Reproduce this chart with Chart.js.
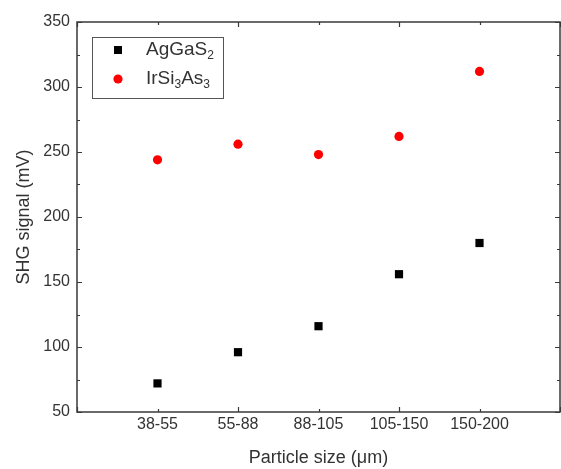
<!DOCTYPE html>
<html>
<head>
<meta charset="utf-8">
<script src="https://cdn.jsdelivr.net/npm/chart.js@4/dist/chart.umd.min.js"></script>
<style>
  html, body { margin: 0; padding: 0; background: #fff; overflow: hidden; }
  canvas { display: block; }
</style>
</head>
<body>
<canvas id="shgChart" width="561" height="469"></canvas>
<script>
// Data
const sizeLabels = ['38-55', '55-88', '88-105', '105-150', '150-200'];
const agGaS2 = [72, 96, 116, 156, 180];
const irSi3As3 = [244, 256, 248, 262, 312];
const yTicks = [50, 100, 150, 200, 250, 300, 350];

const axisColor = '#3a3a3a';
const textColor = '#333';
const FONT = "'Liberation Sans', Arial, sans-serif";

// draw the box frame + inward ticks on all four sides (Origin style)
const framePlugin = {
    id: 'frame',
    afterDatasetsDraw(chart) {
        const { ctx, chartArea: a, scales } = chart;
        const x = scales.x, y = scales.y;
        ctx.save();
        ctx.strokeStyle = axisColor;
        ctx.lineWidth = 1.5;
        ctx.strokeRect(a.left, a.top, a.right - a.left, a.bottom - a.top);
        ctx.lineWidth = 1.2;
        ctx.beginPath();
        // y ticks: major every 50, minor every 25
        for (let v = y.min; v <= y.max; v += 25) {
            const py = Math.round(y.getPixelForValue(v)) + 0.5;
            const len = (v % 50 === 0) ? 5 : 3;
            ctx.moveTo(a.left, py); ctx.lineTo(a.left + len, py);
            ctx.moveTo(a.right, py); ctx.lineTo(a.right - len, py);
        }
        // x ticks: major at even, minor at odd
        for (let v = x.min; v <= x.max; v += 1) {
            const px = Math.round(x.getPixelForValue(v)) + 0.5;
            const len = (v % 2 === 0) ? 5 : 3;
            ctx.moveTo(px, a.bottom); ctx.lineTo(px, a.bottom - len);
            ctx.moveTo(px, a.top); ctx.lineTo(px, a.top + len);
        }
        ctx.stroke();
        ctx.restore();
    }
};

// legend with subscripts ("_n" marks a subscript)
function drawRich(ctx, str, x, y, size) {
    const parts = str.split(/(_\d)/).filter(Boolean);
    let cx = x;
    parts.forEach(p => {
        if (p[0] === '_') {
            ctx.font = Math.round(size * 0.65) + 'px ' + FONT;
            ctx.fillText(p.slice(1), cx, y + size * 0.28);
            cx += ctx.measureText(p.slice(1)).width;
        } else {
            ctx.font = size + 'px ' + FONT;
            ctx.fillText(p, cx, y);
            cx += ctx.measureText(p).width;
        }
    });
}

const legendPlugin = {
    id: 'boxLegend',
    afterDraw(chart) {
        const ctx = chart.ctx;
        const names = ['AgGaS_2', 'IrSi_3As_3'];
        ctx.save();
        ctx.strokeStyle = '#555';
        ctx.lineWidth = 1;
        ctx.strokeRect(92.5, 37.5, 131, 61);
        ctx.textBaseline = 'middle';
        const rows = [50, 79];
        chart.data.datasets.forEach((ds, i) => {
            ctx.fillStyle = ds.backgroundColor;
            ctx.beginPath();
            if (ds.pointStyle === 'rect') {
                ctx.rect(114, rows[i] - 4, 8, 8);
            } else {
                ctx.arc(118, rows[i], 4.6, 0, Math.PI * 2);
            }
            ctx.fill();
            ctx.fillStyle = textColor;
            drawRich(ctx, names[i], 146, rows[i], 19);
        });
        ctx.restore();
    }
};

new Chart(document.getElementById('shgChart'), {
    type: 'scatter',
    data: {
        datasets: [
            {
                label: 'AgGaS2',
                data: agGaS2.map((v, i) => ({ x: i + 1, y: v })),
                backgroundColor: '#000',
                borderColor: '#000',
                pointStyle: 'rect',
                pointRadius: 5.8,
                borderWidth: 0
            },
            {
                label: 'IrSi3As3',
                data: irSi3As3.map((v, i) => ({ x: i + 1, y: v })),
                backgroundColor: '#ff0000',
                borderColor: '#ff0000',
                pointStyle: 'circle',
                pointRadius: 4.6,
                borderWidth: 0
            }
        ]
    },
    options: {
        responsive: false,
        animation: false,
        layout: { autoPadding: false, padding: { top: 22, right: 1, left: 0, bottom: 0 } },
        plugins: {
            legend: { display: false },
            tooltip: { enabled: false }
        },
        scales: {
            x: {
                type: 'linear',
                min: 0,
                max: 6,
                afterFit: s => { s.height = 57; s.paddingLeft = 0; s.paddingRight = 0; },
                afterBuildTicks: s => { s.ticks = [1, 2, 3, 4, 5].map(v => ({ value: v })); },
                grid: { display: false, drawTicks: false },
                border: { display: false },
                ticks: {
                    padding: 3,
                    color: textColor,
                    font: { family: FONT, size: 16 },
                    maxRotation: 0,
                    callback: v => sizeLabels[v - 1] || ''
                },
                title: {
                    display: true,
                    text: 'Particle size (\u03bcm)',
                    color: textColor,
                    font: { family: FONT, size: 18 },
                    padding: { top: 0, bottom: 0 }
                }
            },
            y: {
                min: 50,
                max: 350,
                afterFit: s => { s.width = 77; s.paddingTop = 0; s.paddingBottom = 0; },
                afterBuildTicks: s => { s.ticks = yTicks.map(v => ({ value: v })); },
                grid: { display: false, drawTicks: false },
                border: { display: false },
                ticks: {
                    padding: 7,
                    color: textColor,
                    font: { family: FONT, size: 16 }
                },
                title: {
                    display: true,
                    text: 'SHG signal (mV)',
                    color: textColor,
                    font: { family: FONT, size: 18 },
                    padding: { top: 13, bottom: 0 }
                }
            }
        }
    },
    plugins: [framePlugin, legendPlugin]
});
</script>
</body>
</html>
